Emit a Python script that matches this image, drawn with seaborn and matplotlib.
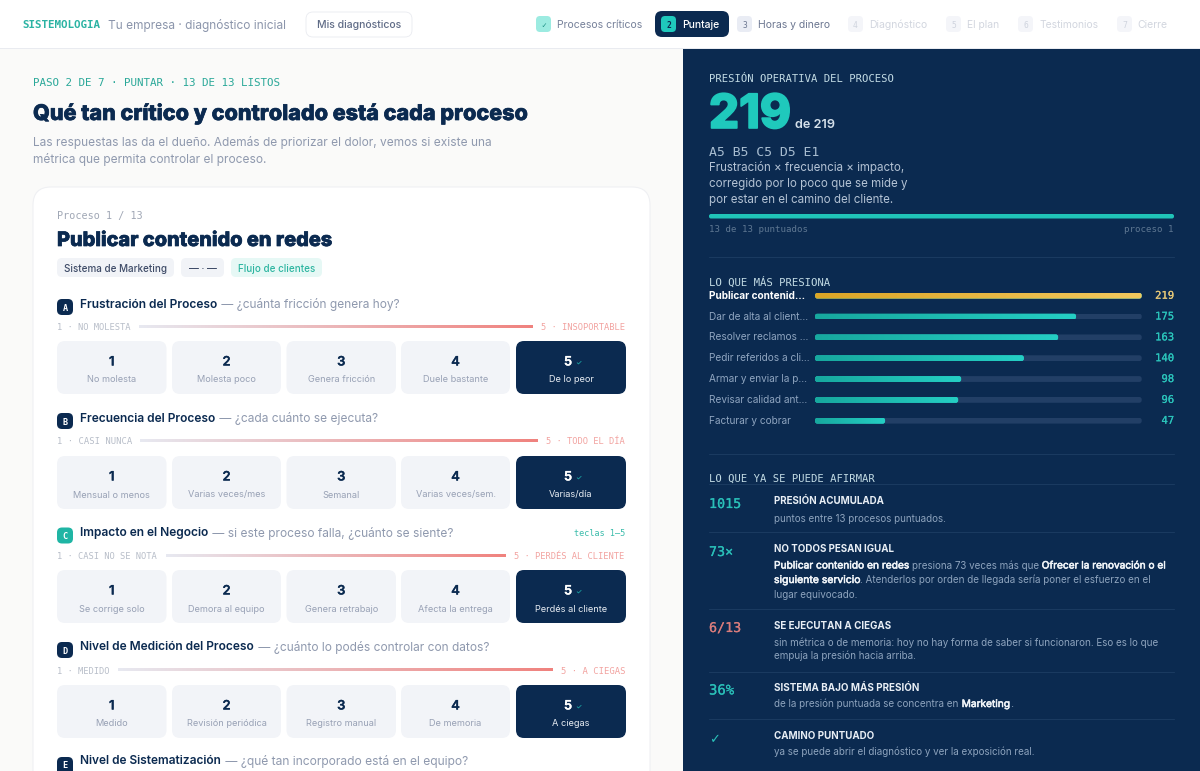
import numpy as np
import seaborn as sns
import matplotlib
matplotlib.use("Agg")
import matplotlib.pyplot as plt
import matplotlib.patheffects as pe
from matplotlib.colors import LinearSegmentedColormap
from matplotlib.patches import FancyBboxPatch, Rectangle

# chart data
process_labels = ["Publicar contenid…", "Dar de alta al client…", "Resolver reclamos …", "Pedir referidos a cli…",
                  "Armar y enviar la p…", "Revisar calidad ant…", "Facturar y cobrar"]
process_scores = [219, 175, 163, 140, 98, 96, 47]
max_score = 219

step_names = ["Procesos críticos", "Puntaje", "Horas y dinero", "Diagnóstico", "El plan", "Testimonios", "Cierre"]
step_marks = ["✓", "2", "3", "4", "5", "6", "7"]

question_letters = ["A", "B", "C", "D"]
question_titles = ["Frustración del Proceso", "Frecuencia del Proceso", "Impacto en el Negocio", "Nivel de Medición del Proceso"]
question_hints = [" — ¿cuánta fricción genera hoy?", " — ¿cada cuánto se ejecuta?",
                  " — si este proceso falla, ¿cuánto se siente?", " — ¿cuánto lo podés controlar con datos?"]
scale_low = ["1 · NO MOLESTA", "1 · CASI NUNCA", "1 · CASI NO SE NOTA", "1 · MEDIDO"]
scale_high = ["5 · INSOPORTABLE", "5 · TODO EL DÍA", "5 · PERDÉS AL CLIENTE", "5 · A CIEGAS"]
option_labels = [
    ["No molesta", "Molesta poco", "Genera fricción", "Duele bastante", "De lo peor"],
    ["Mensual o menos", "Varias veces/mes", "Semanal", "Varias veces/sem.", "Varias/día"],
    ["Se corrige solo", "Demora al equipo", "Genera retrabajo", "Afecta la entrega", "Perdés al cliente"],
    ["Medido", "Revisión periódica", "Registro manual", "De memoria", "A ciegas"],
]

NAVY = "#0b2a50"
TEAL = "#1fc9bc"
MONO = ["DejaVu Sans Mono"]

sns.set_theme(style="white")
plt.rcParams["font.family"] = ["Inter", "DejaVu Sans"]

fig = plt.figure(figsize=(12, 7.71), dpi=100, facecolor="#fafaf9")
px = fig.add_axes([0, 0, 1, 1])
px.set_axis_off()
renderer = fig.canvas.get_renderer()


def t(x, y, s, size, color, weight="normal", ha="left", family=None, width=None, ax=None, heavy=0):
    # size in image pixels; width squeezes the text into a measured span; heavy thickens the strokes
    txt = (ax or px).text(x, y, s, fontsize=size * 0.72, color=color, weight=weight, ha=ha, va="center_baseline",
                          family=family)
    if width:
        txt.set_fontsize(txt.get_fontsize() * width / txt.get_window_extent(renderer).width)
    if heavy:
        txt.set_path_effects([pe.withStroke(linewidth=heavy, foreground=color)])
    return txt


def box(x0, y0, x1, y1, r, fc, ec="none", lw=0.8, z=2):
    p = FancyBboxPatch((x0 + r, y0 + r), x1 - x0 - 2 * r, y1 - y0 - 2 * r, boxstyle=f"round,pad={r},rounding_size={r}",
                       fc=fc, ec=ec, lw=lw, zorder=z)
    px.add_patch(p)
    return p


def gradient(ax, extent, c0, c1, clip=None, z=3):
    cmap = LinearSegmentedColormap.from_list("g", [c0, c1])
    im = ax.imshow(np.linspace(0, 1, 256)[None, :], extent=extent, aspect="auto", cmap=cmap, zorder=z,
                   interpolation="bilinear")
    if clip is not None:
        im.set_clip_path(clip)
    return im


# panels
px.add_patch(Rectangle((0, 0), 1200, 48, fc="white", ec="none", zorder=1))
px.add_patch(Rectangle((0, 48), 1200, 1, fc="#e9ebf0", ec="none", zorder=1))
px.add_patch(Rectangle((683, 49), 517, 722, fc=NAVY, ec="none", zorder=1))
box(33, 187, 650, 800, 18, "white", "#eff0f3", 0.8, z=1)

# header
t(22, 24.5, "SISTEMOLOGIA", 9, "#2bb3a3", "bold", family=MONO, width=78)
t(108, 24, "Tu empresa · diagnóstico inicial", 12.5, "#8b95ab", width=178)
box(306, 12, 412, 37, 7, "white", "#e9ebf0", 0.6)
t(359, 24.5, "Mis diagnósticos", 10.5, "#5f6b86", "medium", ha="center", width=84)

step_box_x = [536, 661, 737, 848, 946, 1018, 1117]
step_text_x = [557, 682, 758, 869, 967, 1039, 1137]
step_text_w = [85, 37, 72, 58, 32, 59, 30]
step_text_c = ["#76819a", "white", "#6c7791", "#d2d6df", "#d2d6df", "#d2d6df", "#d2d6df"]
step_box_c = ["#9cebe1", TEAL, "#e9ecf4", "#f4f5f9", "#f4f5f9", "#f4f5f9", "#f4f5f9"]
step_num_c = ["#1b8f84", NAVY, "#6c7791", "#cfd4de", "#cfd4de", "#cfd4de", "#cfd4de"]
box(655, 11, 729, 37, 7, NAVY, z=2)
for i, name in enumerate(step_names):
    bx = step_box_x[i]
    box(bx, 16, bx + 15, 32, 4, step_box_c[i], z=3)
    t(bx + 7.5, 24.3, step_marks[i], 8, step_num_c[i], "bold" if i == 1 else "normal", ha="center", family=MONO)
    t(step_text_x[i], 24, name, 10.5, step_text_c[i], "medium" if i == 1 else "normal", width=step_text_w[i])

# left column head
t(33, 82, "PASO 2 DE 7 · PUNTAR · 13 DE 13 LISTOS", 9, "#2aa899", family=MONO, width=247)
t(33, 111.5, "Qué tan crítico y controlado está cada proceso", 23.5, NAVY, 800, width=496, heavy=0.5)
t(33, 141, "Las respuestas las da el dueño. Además de priorizar el dolor, vemos si existe una", 12.5, "#8f99ae", width=459)
t(33, 158, "métrica que permita controlar el proceso.", 12.5, "#8f99ae", width=234)

# process card
t(57, 215.5, "Proceso 1 / 13", 9.5, "#a0a7b5", family=MONO, width=86)
t(57, 239, "Publicar contenido en redes", 21, NAVY, 800, width=275, heavy=0.5)
box(57, 258, 174, 277, 5, "#f1f3f7")
t(115.5, 267.5, "Sistema de Marketing", 10, "#3d4a66", "medium", ha="center", width=102)
box(181, 258, 224, 277, 5, "#f1f3f7")
t(202.5, 267.5, "— · —", 10, "#3d4a66", "medium", ha="center", width=28)
box(231, 258, 322, 277, 5, "#e6f8f5")
t(276.5, 267.5, "Flujo de clientes", 10, "#2cb5a0", "medium", ha="center", width=76)

card_x = [(57, 166.5), (172, 281), (286.5, 396), (401, 510), (516, 626)]
head_y = [303, 417, 531.5, 646]
badge_y = [299, 413, 527.5, 642]
scale_y = [327, 441, 555.5, 670]
cards_y = [(341, 394), (456, 509), (570, 623), (685, 738)]
low_w = [74, 75, 101, 53]
line_x = [(139, 533), (140, 538), (166, 506), (118, 553)]
high_x = [541, 546, 514, 561]
head_end = [218, 216, 209, 255]
hint_end = [400, 378, 453, 490]
for q, letter in enumerate(question_letters):
    box(57, badge_y[q], 73, badge_y[q] + 16, 5, "#1fb5a4" if letter == "C" else NAVY, z=3)
    t(65, badge_y[q] + 8.3, letter, 8.5, "white", "bold", ha="center", family=MONO)
    t(80, head_y[q], question_titles[q], 12.5, NAVY, 600, width=head_end[q] - 80)
    t(head_end[q], head_y[q], question_hints[q], 12.5, "#8f99ae", width=hint_end[q] - head_end[q])
    t(57, scale_y[q], scale_low[q], 8.5, "#b8bec9", family=MONO, width=low_w[q])
    t(high_x[q], scale_y[q], scale_high[q], 8.5, "#f2a3a0", family=MONO, width=625 - high_x[q])
    gradient(px, (line_x[q][0], line_x[q][1], scale_y[q] + 1.3, scale_y[q] - 1.3), "#e7e9f1", "#f0827e")
    y0, y1 = cards_y[q]
    for c, (x0, x1) in enumerate(card_x):
        picked = c == 4
        box(x0, y0, x1, y1, 8, NAVY if picked else "#f2f4f8", z=2)
        if picked:
            t((x0 + x1) / 2 - 3, y0 + 20, str(c + 1), 13, "white", 600, ha="center", heavy=0.2)
            t((x0 + x1) / 2 + 7, y0 + 21, "✓", 7, TEAL, ha="center")
        else:
            t((x0 + x1) / 2, y0 + 20, str(c + 1), 13, NAVY, 600, ha="center", heavy=0.2)
        t((x0 + x1) / 2, y0 + 38, option_labels[q][c], 9.2, "#e8edf3" if picked else "#98a1b5", ha="center")
t(574, 533, "teclas 1–5", 8.5, "#3bbcab", family=MONO, width=51)
box(57, 757, 73, 780, 5, NAVY, z=3)
t(65, 765, "E", 8.5, "white", "bold", ha="center", family=MONO)
t(80, 760, "Nivel de Sistematización", 12.5, NAVY, 600, width=142)
t(222, 760, " — ¿qué tan incorporado está en el equipo?", 12.5, "#8f99ae", width=247)

# right panel, top
t(709, 78, "PRESIÓN OPERATIVA DEL PROCESO", 9, "#c2dbe4", family=MONO, width=183)
t(709, 111, "219", 48, TEAL, 800, width=82, heavy=1.2)
t(795, 124, "de 219", 13, "#d5e0ea", 600, width=40)
t(709, 151, "A5 B5 C5 D5 E1", 10.5, "#a8bdd0", family=MONO, width=112)
for y, s, w in [(166, "Frustración × frecuencia × impacto,", 195), (182, "corregido por lo poco que se mide y", 198),
                (198, "por estar en el camino del cliente.", 184)]:
    t(709, y, s, 12, "#b3c2d4", width=w)
box(709, 214, 1174, 218.5, 2, "#20c4b8", z=2)
t(709, 229, "13 de 13 puntuados", 9, "#5e7792", family=MONO, width=98)
t(1174, 229, "proceso 1", 9, "#5e7792", ha="right", family=MONO, width=49)
for y in [257, 454, 484, 532, 609, 672, 719]:
    px.plot([709, 1174], [y, y], color="#1a3a60", lw=0.8, zorder=2)

# bar chart, axes span 815-1141.7 px wide and 7 rows of 20.83 px
t(709, 281.5, "LO QUE MÁS PRESIONA", 9, "#c2dbe4", family=MONO, width=120)
bar_ax = fig.add_axes([815 / 1200, 1 - 431.1 / 771, 326.7 / 1200, 145.8 / 771], facecolor="none", zorder=5)
sns.barplot(x=[max_score] * len(process_scores), y=process_labels, color="#223f66", width=0.28, saturation=1, ax=bar_ax)
n_track = len(bar_ax.patches)
sns.barplot(x=process_scores, y=process_labels, color=TEAL, width=0.28, saturation=1, ax=bar_ax)
bar_ax.set_xlim(0, max_score)
bar_ax.set_ylim(6.5, -0.5)
bar_ax.set_axis_off()
fig.canvas.draw()
for j, bar in enumerate(bar_ax.patches):
    bar.set_edgecolor("none")
    bar.set_linewidth(0)
    (bx0, by0), (bx1, by1) = bar_ax.transData.transform([(bar.get_x(), bar.get_y()),
                                                         (bar.get_x() + bar.get_width(), bar.get_y() + bar.get_height())])
    by0, by1 = 771 - by0, 771 - by1
    low, high = min(by0, by1), max(by0, by1)
    clip = FancyBboxPatch((bx0 + 2.5, low + 2.5), bx1 - bx0 - 5, high - low - 5, boxstyle="round,pad=2.5,rounding_size=2.5",
                          transform=px.transData)
    bar.set_clip_path(clip)
    if j >= n_track:
        first = j == n_track
        gradient(bar_ax, (bar.get_x(), bar.get_x() + bar.get_width(), bar.get_y() + bar.get_height(), bar.get_y()),
                 "#dba526" if first else "#17a89e", "#f3c95e" if first else "#25cfc4", clip=clip)
bar_ax.set_xlim(0, max_score)
bar_ax.set_ylim(6.5, -0.5)
for i, (label, score) in enumerate(zip(process_labels, process_scores)):
    first = i == 0
    bar_ax.annotate(label, xy=(0, i), xytext=(-106 * 0.72, 0), textcoords="offset points", ha="left", va="center",
                    fontsize=7.25, color="white" if first else "#8fa5c0", weight="bold" if first else "normal",
                    annotation_clip=False)
    value = bar_ax.annotate(str(score), xy=(max_score, i), xytext=(32.5 * 0.72, 0), textcoords="offset points", ha="right",
                            va="center", fontsize=7.6, family=MONO, color="#e6c878" if first else "#2bc4bb",
                            annotation_clip=False)
    value.set_path_effects([pe.withStroke(linewidth=0.15, foreground=value.get_color())])

# findings
t(709, 478, "LO QUE YA SE PUEDE AFIRMAR", 9, "#c2dbe4", family=MONO, width=164)
DIM = "#8da3bd"
BRIGHT = "#f1f5f9"
T_C = "#e8eef5"
BOLD = "bold"
t(709, 503, "1015", 14, "#2abfb8", family=MONO, width=32, heavy=0.15)
t(774, 500, "PRESIÓN ACUMULADA", 9.5, T_C, BOLD, width=110)
t(774, 517.5, "puntos entre 13 procesos puntuados.", 10.5, DIM, width=172)

t(709, 551, "73×", 14, "#2abfb8", family=MONO, width=24, heavy=0.15)
t(774, 548, "NO TODOS PESAN IGUAL", 9.5, T_C, BOLD, width=120)
# mixed weight lines, every run set at its measured start and span
t(774, 564.5, "Publicar contenido en redes", 10.5, BRIGHT, width=134.5, heavy=0.4)
t(911.5, 564.5, "presiona 73 veces más que", 10.5, DIM, width=126.5)
t(1041.7, 564.5, "Ofrecer la renovación o el", 10.5, BRIGHT, width=123.5, heavy=0.4)
t(774, 579, "siguiente servicio", 10.5, BRIGHT, width=86, heavy=0.4)
t(860, 579, ". Atenderlos por orden de llegada sería poner el esfuerzo en el", 10.5, DIM, width=291)
t(774, 594, "lugar equivocado.", 10.5, DIM, width=83.5)

t(709, 627, "6/13", 14, "#d97c7c", family=MONO, width=32, heavy=0.15)
t(774, 625, "SE EJECUTAN A CIEGAS", 9.5, T_C, BOLD, width=117)
t(774, 641.5, "sin métrica o de memoria: hoy no hay forma de saber si funcionaron. Eso es lo que", 10.5, DIM, width=385)
t(774, 655, "empuja la presión hacia arriba.", 10.5, DIM, width=142)

t(709, 689, "36%", 14, "#2abfb8", family=MONO, width=25, heavy=0.15)
t(774, 687, "SISTEMA BAJO MÁS PRESIÓN", 9.5, T_C, BOLD, width=145)
t(774, 703, "de la presión puntuada se concentra en", 10.5, DIM, width=184.5)
t(961.7, 703, "Marketing", 10.5, BRIGHT, width=48, heavy=0.4)
t(1009.7, 703, ".", 10.5, DIM)

t(709, 738, "✓", 13, "#2abfb8", family=["DejaVu Sans"])
t(774, 735, "CAMINO PUNTUADO", 9.5, T_C, BOLD, width=100)
t(774, 751, "ya se puede abrir el diagnóstico y ver la exposición real.", 10.5, DIM, width=261)

# imshow moves the limits, so pin the page coordinates last
px.set_xlim(0, 1200)
px.set_ylim(771, 0)

fig.savefig("out.png", dpi=100, facecolor=fig.get_facecolor())
